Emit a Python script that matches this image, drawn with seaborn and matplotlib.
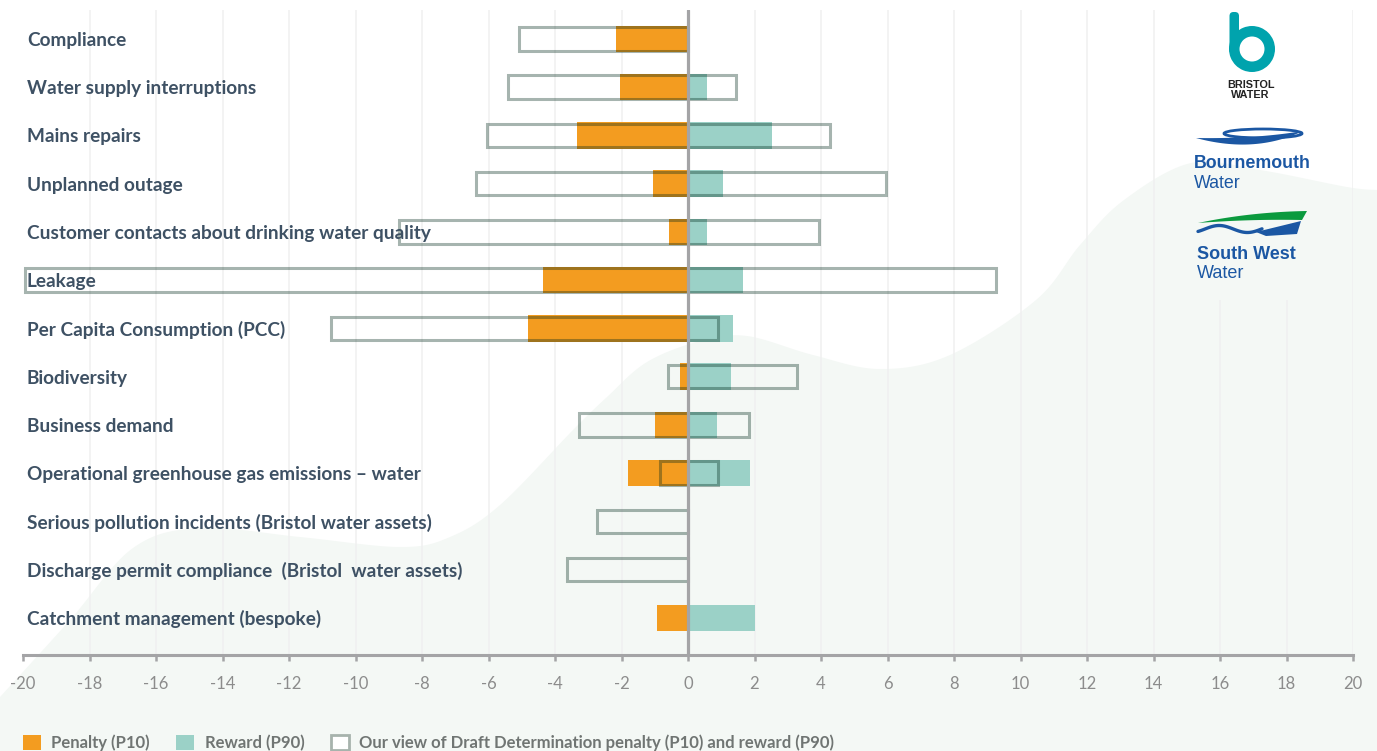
import numpy as np
import pandas as pd
import matplotlib
matplotlib.use("Agg")
import matplotlib.pyplot as plt
import seaborn as sns
from matplotlib.patches import Patch, Wedge, FancyBboxPatch, Polygon, Ellipse

# ---- data -------------------------------------------------------------
measures = [
    "Compliance",
    "Water supply interruptions",
    "Mains repairs",
    "Unplanned outage",
    "Customer contacts about drinking water quality",
    "Leakage",
    "Per Capita Consumption (PCC)",
    "Biodiversity",
    "Business demand",
    "Operational greenhouse gas emissions \u2013 water",
    "Serious pollution incidents (Bristol water assets)",
    "Discharge permit compliance  (Bristol  water assets)",
    "Catchment management (bespoke)",
]
penalty_p10 = [-2.17, -2.05, -3.34, -1.05, -0.57, -4.35, -4.81, -0.24, -0.99, -1.80, 0.0, 0.0, -0.93]
reward_p90 = [0.0, 0.57, 2.53, 1.05, 0.57, 1.65, 1.35, 1.29, 0.87, 1.86, 0.0, 0.0, 2.01]
dd_penalty_p10 = [-5.08, -5.41, -6.05, -6.38, -8.69, -19.94, -10.74, -0.61, -3.28, -0.84, -2.75, -3.65, np.nan]
dd_reward_p90 = [0.0, 1.44, 4.27, 5.95, 3.94, 9.26, 0.89, 3.29, 1.83, 0.90, 0.0, 0.0, np.nan]
x_ticks = list(range(-20, 21, 2))

legend_labels = [
    "Penalty (P10)",
    "Reward (P90)",
    "Our view of Draft Determination penalty (P10) and reward (P90)",
]

df = pd.DataFrame({
    "measure": measures,
    "penalty": penalty_p10,
    "reward": reward_p90,
    "dd_penalty": dd_penalty_p10,
    "dd_reward": dd_reward_p90,
})

# ---- style ------------------------------------------------------------
ORANGE = "#f39c20"
TEAL = "#9bd1c7"
OUTLINE = (0.0, 0.16, 0.10, 0.35)
LABEL = "#3e5164"
TICK = "#8c8c8c"
AXIS = "#a4a4a6"
GRID = "#f0f0f0"
WAVE = "#f4f8f5"

sns.set_theme(style="white")
plt.rcParams["font.family"] = ["Lato", "DejaVu Sans"]
plt.rcParams["axes.unicode_minus"] = False

W, H = 1377, 751
fig = plt.figure(figsize=(W / 100, H / 100), dpi=100)
fig.patch.set_facecolor("white")

# background wave, in pixel coordinates
bg = fig.add_axes([0, 0, 1, 1], zorder=-5)
bg.set_xlim(0, W)
bg.set_ylim(H, 0)
bg.axis("off")


def catmull_rom(pts, n=24):
    pts = np.asarray(pts, float)
    P = np.vstack([pts[0], pts, pts[-1]])
    out = []
    t = np.linspace(0, 1, n, endpoint=False)[:, None]
    for i in range(1, len(P) - 2):
        p0, p1, p2, p3 = P[i - 1], P[i], P[i + 1], P[i + 2]
        out.append(0.5 * (2 * p1 + (-p0 + p2) * t + (2 * p0 - 5 * p1 + 4 * p2 - p3) * t ** 2
                          + (-p0 + 3 * p1 - 3 * p2 + p3) * t ** 3))
    out.append(P[-2][None])
    return np.vstack(out)


wave_pts = [(0, 697), (70, 620), (133, 548), (200, 528), (300, 537), (400, 547), (450, 537),
            (500, 505), (573, 430), (607, 397), (647, 362), (700, 341), (747, 336), (813, 355),
            (880, 369), (950, 355), (1036, 300), (1080, 245), (1124, 200), (1191, 163),
            (1260, 170), (1347, 187), (1377, 190)]
curve = catmull_rom(wave_pts)
poly = np.vstack([curve, [[W, H], [0, H]]])
bg.add_patch(Polygon(poly, closed=True, facecolor=WAVE, edgecolor="none"))

# ---- main chart -------------------------------------------------------
ax = fig.add_axes([23 / W, 96 / H, 1330 / W, 645 / H])
ax.set_facecolor("none")

bar_h = 0.55
sns.barplot(data=df, x="penalty", y="measure", orient="h", color=ORANGE,
            width=bar_h, saturation=1, linewidth=0, ax=ax, zorder=2)
sns.barplot(data=df, x="reward", y="measure", orient="h", color=TEAL,
            width=bar_h, saturation=1, linewidth=0, ax=ax, zorder=2)

# draft determination outlines
lw_pt = 2.2
inset = (lw_pt / 0.72) / 48.25
ypos = np.arange(len(measures))
mask = df["dd_penalty"].notna().values
ax.barh(ypos[mask], (df["dd_reward"] - df["dd_penalty"]).values[mask],
        left=df["dd_penalty"].values[mask], height=bar_h - inset,
        fill=False, edgecolor=OUTLINE, linewidth=lw_pt, zorder=3)

ax.set_xlim(-20, 20)
ax.set_ylim(len(measures) - 1 + 0.77, -0.60)

# vertical grid; the two right-most inner lines stop below the logo column
for xv in x_ticks:
    if xv in (-20, 0):
        continue
    top = -0.60
    if xv in (16, 18):
        top = -0.60 + (300 - 10) / 48.25
    ax.vlines(xv, len(measures) - 1 + 0.77, top, color=GRID, linewidth=1.1, zorder=0)
ax.axvline(0, color=AXIS, linewidth=2.3, zorder=4)

# category labels drawn inside the plot
for i, name in enumerate(measures):
    ax.text(-19.88, i + 0.03, name, ha="left", va="center", fontsize=13.7,
            fontweight="bold", color=LABEL, zorder=5)

ax.set_yticks([])
ax.set_ylabel("")
ax.set_xlabel("")
ax.set_xticks(x_ticks)
ax.set_xticklabels([str(v) for v in x_ticks])
for s in ("top", "right", "left"):
    ax.spines[s].set_visible(False)
ax.spines["bottom"].set_color(AXIS)
ax.spines["bottom"].set_linewidth(2.2)
ax.tick_params(axis="x", bottom=True, direction="out", length=4, width=1.8, color=AXIS,
               labelcolor=TICK, labelsize=12, pad=11)

# ---- legend -----------------------------------------------------------
handles = [
    Patch(facecolor=ORANGE, edgecolor="none"),
    Patch(facecolor=TEAL, edgecolor="none"),
    Patch(facecolor="white", edgecolor="#a7b3ad", linewidth=2.0),
]
leg = fig.legend(handles, legend_labels, loc="center left",
                 bbox_to_anchor=(23 / W, 8 / H), ncol=3, frameon=False,
                 fontsize=12.0, handlelength=1.07, handleheight=1.07,
                 handletextpad=0.62, columnspacing=1.6, borderaxespad=0, borderpad=0)
for t in leg.get_texts():
    t.set_color("#707573")
    t.set_fontweight("bold")

# ---- brand marks ------------------------------------------------------
lg = fig.add_axes([0, 0, 1, 1], zorder=10)
lg.set_xlim(0, W)
lg.set_ylim(H, 0)
lg.axis("off")
lg.patch.set_alpha(0)

BW_TEAL = "#00a3ad"
lg.add_patch(FancyBboxPatch((1229.5, 12), 9.5, 42, boxstyle="round,pad=0,rounding_size=4",
                            facecolor=BW_TEAL, edgecolor="none"))
lg.add_patch(Wedge((1252, 49), 23, 0, 360, width=10.5, facecolor=BW_TEAL, edgecolor="none"))
lg.text(1251, 88, "BRISTOL", ha="center", va="baseline", fontsize=7.8, fontweight="bold",
        color="#222222", family="Liberation Sans")
lg.text(1250, 98, "WATER", ha="center", va="baseline", fontsize=7.8, fontweight="bold",
        color="#222222", family="Liberation Sans")

BLUE = "#1b57a3"
lg.add_patch(Ellipse((1263, 133.5), 78, 9, fill=False, edgecolor=BLUE, linewidth=2.0))
tt = np.linspace(0, 1, 40)[:, None]


def qbez(p0, c, p2):
    p0, c, p2 = map(np.asarray, (p0, c, p2))
    return (1 - tt) ** 2 * p0 + 2 * (1 - tt) * tt * c + tt ** 2 * p2


low = qbez((1196, 138), (1255, 154), (1303, 131))
upp = qbez((1196, 138), (1255, 139), (1303, 131))
lg.add_patch(Polygon(np.vstack([low, upp[::-1]]), closed=True, facecolor=BLUE, edgecolor="none"))
lg.text(1194, 168, "Bournemouth", ha="left", va="baseline", fontsize=12.8, fontweight="bold",
        color=BLUE, family="Liberation Sans")
lg.text(1194, 188, "Water", ha="left", va="baseline", fontsize=12.8, color=BLUE,
        family="Liberation Sans")

GREEN = "#0b9a3e"
g_top = qbez((1198, 223), (1250, 212), (1307, 211))
g_bot = qbez((1198, 223), (1250, 219), (1302, 220))
lg.add_patch(Polygon(np.vstack([g_top, g_bot[::-1]]), closed=True, facecolor=GREEN, edgecolor="none"))
wx = np.linspace(1198, 1262, 60)
wy = 229 - 3.5 * np.sin((wx - 1205) / 9.0)
lg.plot(wx, wy, color=BLUE, linewidth=2.4, solid_capstyle="round")
lg.add_patch(Polygon([(1256, 232), (1301, 221), (1297, 234), (1266, 236)], closed=True,
                     facecolor=BLUE, edgecolor="none"))
lg.text(1197, 259, "South West", ha="left", va="baseline", fontsize=13, fontweight="bold",
        color=BLUE, family="Liberation Sans")
lg.text(1197, 278, "Water", ha="left", va="baseline", fontsize=13, color=BLUE,
        family="Liberation Sans")

fig.savefig("out.png", dpi=100, facecolor="white")
